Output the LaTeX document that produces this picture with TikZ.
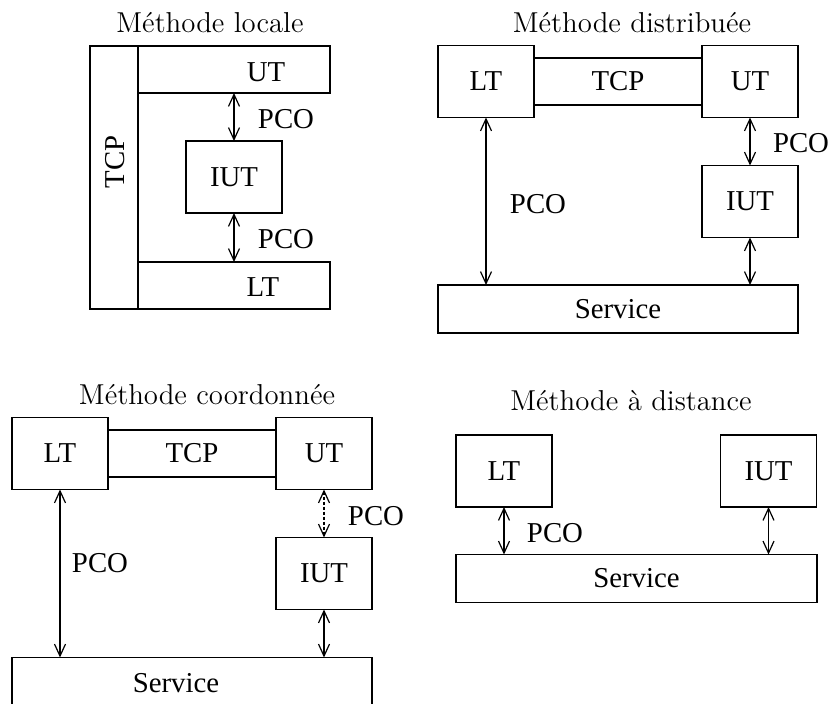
\documentclass[tikz,border=0pt]{standalone}
\usepackage{fontspec}
\newfontfamily\boxfont{Liberation Serif}
\usetikzlibrary{arrows.meta,positioning}
\tikzset{
    block/.style={rectangle, draw=black, line width=0.6pt, outer sep=0pt, inner sep=0pt, minimum width=48pt, minimum height=36pt, font=\boxfont\Large},
    wide/.style={block, minimum width=96pt, minimum height=23.5pt},
    band/.style={block, minimum width=84pt, minimum height=23.5pt},
    service/.style={block, minimum width=180pt, minimum height=24pt},
    tag/.style={font=\boxfont\Large, inner sep=0pt},
    title/.style={font=\Large, anchor=base},
    line/.style={{Straight Barb[length=6pt,width=5.5pt]}-{Straight Barb[length=6pt,width=5.5pt]}, line width=0.6pt},
}

\begin{document}
\begin{tikzpicture}
        [x=0.5pt, y=-0.5pt]
        \useasboundingbox (0,0) rectangle (833,704);

        % Methode locale
        \node[title] (t1) at (210,33) {Méthode locale};
        \node[block, minimum width=24pt, minimum height=131.5pt] (tcp1) at (114,177.5) {};
        \node[tag, rotate=90] (tcp1l) at (115,162) {TCP};
        \node[wide, anchor=north west] (ut1) at (tcp1.north east) {};
        \node[wide, anchor=south west] (lt1) at (tcp1.south east) {};
        \node[tag] (ut1l) at (266,72) {UT};
        \node[tag] (lt1l) at (263,287) {LT};
        \node[block] (iut1) at (234,177) {IUT};

        \draw[line] (ut1.south -| iut1.north) -- (iut1.north);
        \draw[line] (iut1.south) -- (iut1.south |- lt1.north);
        \node[tag] (pco1a) at (286,119) {PCO};
        \node[tag] (pco1b) at (286,239) {PCO};

        % Methode distribuee
        \node[title] (t2) at (632,33) {Méthode distribuée};
        \node[block] (lt2) at (486,81.5) {LT};
        \node[band, right=0pt of lt2] (tcp2) {TCP};
        \node[block, right=0pt of tcp2] (ut2) {UT};
        \node[block, below=24pt of ut2] (iut2) {IUT};
        \node[service] (svc2) at (618,309) {Service};

        \draw[line] (lt2.south) -- (lt2.south |- svc2.north);
        \draw[line] (ut2.south) -- (iut2.north);
        \draw[line] (iut2.south) -- (iut2.south |- svc2.north);
        \node[tag] (pco2a) at (801,143) {PCO};
        \node[tag] (pco2b) at (538,204) {PCO};

        % Methode coordonnee
        \node[title] (t3) at (207,405) {Méthode coordonnée};
        \node[block] (lt3) at (60,453.5) {LT};
        \node[band, right=0pt of lt3] (tcp3) {TCP};
        \node[block, right=0pt of tcp3] (ut3) {UT};
        \node[block, below=24pt of ut3] (iut3) {IUT};
        \node[service] (svc3) at (192,681.5) {};
        \node[tag] (svc3l) at (176,683) {Service};

        \draw[line] (lt3.south) -- (lt3.south |- svc3.north);
        \draw[line, dash pattern=on 1.5pt off 1pt] (ut3.south) -- (iut3.north);
        \draw[line] (iut3.south) -- (iut3.south |- svc3.north);
        \node[tag] (pco3a) at (376,516) {PCO};
        \node[tag] (pco3b) at (100,563) {PCO};

        % Methode a distance
        \node[title] (t4) at (631,411) {Méthode à distance};
        \node[block] (lt4) at (504,471) {LT};
        \node[block] (iut4) at (768.5,471) {IUT};
        \node[service, minimum width=180.5pt] (svc4) at (636.5,578.5) {Service};

        \draw[line] (lt4.south) -- (lt4.south |- svc4.north);
        \draw[line] (iut4.south) -- (iut4.south |- svc4.north);
        \node[tag] (pco4) at (555,533) {PCO};

    \end{tikzpicture}
\end{document}
